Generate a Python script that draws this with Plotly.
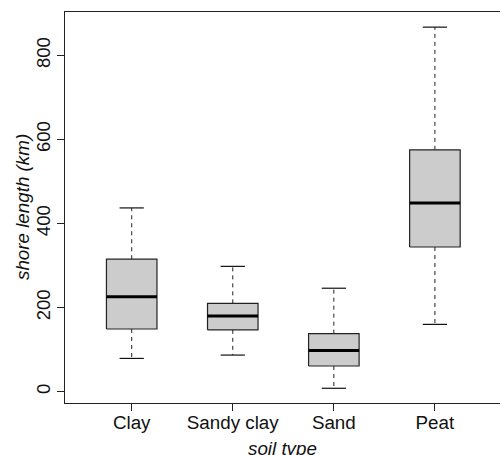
import plotly.graph_objects as go

# Shore length (km) summary statistics per soil type
categories = ["Clay", "Sandy clay", "Sand", "Peat"]
lower_whisker = [79, 87, 8, 160]
q1 = [149, 147, 61, 344]
median = [226, 180, 98, 449]
q3 = [315, 210, 138, 575]
upper_whisker = [437, 298, 246, 867]

y_ticks = [0, 200, 400, 600, 800]

BOX_HALF = 0.25
CAP_HALF = 0.12
FONT = "Liberation Sans, Arial, sans-serif"

fig = go.Figure()

for i, name in enumerate(categories):
    x = i + 1
    # dashed whiskers
    fig.add_trace(go.Scatter(
        x=[x, x, None, x, x],
        y=[q3[i], upper_whisker[i], None, q1[i], lower_whisker[i]],
        mode="lines", line=dict(color="#222222", width=1, dash="4px,4px"),
        hoverinfo="skip", showlegend=False))
    # whisker caps
    fig.add_trace(go.Scatter(
        x=[x - CAP_HALF, x + CAP_HALF, None, x - CAP_HALF, x + CAP_HALF],
        y=[upper_whisker[i], upper_whisker[i], None, lower_whisker[i], lower_whisker[i]],
        mode="lines", line=dict(color="#111111", width=1.2),
        hoverinfo="skip", showlegend=False))
    # box
    fig.add_trace(go.Scatter(
        x=[x - BOX_HALF, x + BOX_HALF, x + BOX_HALF, x - BOX_HALF, x - BOX_HALF],
        y=[q1[i], q1[i], q3[i], q3[i], q1[i]],
        mode="lines", fill="toself", fillcolor="#cccccc",
        line=dict(color="#222222", width=1.2),
        hoverinfo="skip", showlegend=False))
    # median
    fig.add_trace(go.Scatter(
        x=[x - BOX_HALF, x + BOX_HALF],
        y=[median[i], median[i]],
        mode="lines", line=dict(color="#000000", width=3),
        hoverinfo="skip", showlegend=False))

# axis titles placed relative to the plot frame
fig.add_annotation(
    text="<i>soil type</i>", xref="paper", yref="paper", x=0.5, y=0,
    xanchor="center", yanchor="middle", yshift=-45, showarrow=False,
    font=dict(size=18.8))
fig.add_annotation(
    text="<i>shore length (km)</i>", xref="paper", yref="paper", x=0, y=0.5,
    xanchor="center", yanchor="middle", xshift=-42.5, textangle=-90,
    showarrow=False, font=dict(size=18.8))

fig.update_layout(
    width=500, height=455,
    margin=dict(l=65, r=0, t=12, b=52),
    plot_bgcolor="white", paper_bgcolor="white",
    font=dict(family=FONT, size=18, color="#111111"),
    xaxis=dict(
        range=[0.34, 4.644], automargin=False,
        tickmode="array", tickvals=[1, 2, 3, 4], ticktext=categories,
        tickfont=dict(size=18.8),
        ticks="outside", ticklen=7, tickcolor="#222222", tickwidth=1,
        ticklabelstandoff=-5,
        showline=True, mirror=True, linecolor="#222222", linewidth=1.2,
        showgrid=False, zeroline=False,
    ),
    yaxis=dict(
        range=[-27, 903], automargin=False,
        tickmode="array", tickvals=y_ticks, ticktext=[str(v) for v in y_ticks],
        tickangle=-90, tickfont=dict(size=18.5),
        ticks="outside", ticklen=7, tickcolor="#222222", tickwidth=1,
        showline=True, linecolor="#222222", linewidth=1.2,
        showgrid=False, zeroline=False,
    ),
)

fig.write_html("out.html")
